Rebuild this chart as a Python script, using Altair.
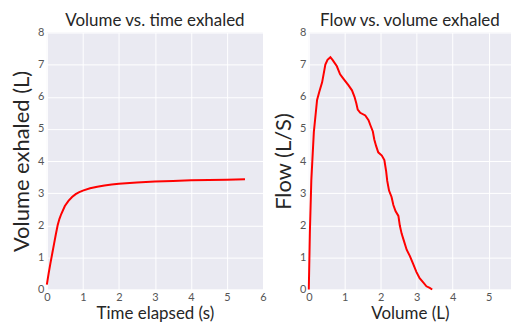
import altair as alt
import pandas as pd

# Left panel: volume vs time
time_s = [0, 0.05, 0.1, 0.15, 0.2, 0.25, 0.3, 0.35, 0.4, 0.5, 0.6, 0.7, 0.8, 0.9,
          1.0, 1.2, 1.4, 1.6, 1.8, 2.0, 2.5, 3.0, 3.5, 4.0, 4.5, 5.0, 5.5]
volume_l = [0.15, 0.5, 0.82, 1.12, 1.42, 1.72, 2.0, 2.2, 2.35, 2.6, 2.76, 2.88, 2.97, 3.03,
            3.08, 3.15, 3.2, 3.24, 3.27, 3.29, 3.33, 3.36, 3.38, 3.40, 3.41, 3.42, 3.43]

# Right panel: flow vs volume
fv_volume = [0, 0.03, 0.07, 0.14, 0.23, 0.29, 0.37, 0.46, 0.52, 0.6, 0.66, 0.78, 0.87, 0.97,
             1.1, 1.2, 1.27, 1.32, 1.36, 1.43, 1.57, 1.66, 1.72, 1.78, 1.82, 1.87, 1.93,
             2.03, 2.1, 2.15, 2.18, 2.23, 2.3, 2.35, 2.41, 2.49, 2.53, 2.58, 2.65, 2.72,
             2.81, 2.9, 2.99, 3.08, 3.18, 3.27, 3.36, 3.43]
fv_flow = [0, 1.8, 3.4, 4.9, 5.9, 6.15, 6.45, 7.0, 7.15, 7.23, 7.15, 6.95, 6.7, 6.55,
           6.36, 6.2, 6.0, 5.8, 5.6, 5.5, 5.42, 5.27, 5.09, 4.92, 4.67, 4.47, 4.27,
           4.17, 4.03, 3.68, 3.38, 3.08, 2.88, 2.63, 2.44, 2.29, 1.99, 1.74, 1.49, 1.24,
           1.04, 0.8, 0.55, 0.35, 0.22, 0.1, 0.05, 0.0]

tick_vals = [0, 1, 2, 3, 4, 5, 6, 7, 8]

df1 = pd.DataFrame({"t": time_s, "v": volume_l, "i": range(len(time_s))})
df2 = pd.DataFrame({"v": fv_volume, "f": fv_flow, "i": range(len(fv_volume))})

FONT = "Lato"

x_axis_style = dict(titleFontSize=17, titlePadding=3, labelPadding=2)

left = alt.Chart(df1, title=alt.Title("Volume vs. time exhaled")).mark_line(
    color="red", strokeWidth=2
).encode(
    x=alt.X("t:Q", title="Time elapsed (s)",
            scale=alt.Scale(domain=[0, 6], nice=False),
            axis=alt.Axis(values=[0, 1, 2, 3, 4, 5, 6], **x_axis_style)),
    y=alt.Y("v:Q", title="Volume exhaled (L)",
            scale=alt.Scale(domain=[0, 8], nice=False),
            axis=alt.Axis(values=tick_vals)),
    order="i:Q",
).properties(width=217, height=258)

right = alt.Chart(df2, title=alt.Title("Flow vs. volume exhaled")).mark_line(
    color="red", strokeWidth=2
).encode(
    x=alt.X("v:Q", title="Volume (L)",
            scale=alt.Scale(domain=[0, 5.62], nice=False),
            axis=alt.Axis(values=[0, 1, 2, 3, 4, 5], **x_axis_style)),
    y=alt.Y("f:Q", title="Flow (L/S)",
            scale=alt.Scale(domain=[0, 8], nice=False),
            axis=alt.Axis(values=tick_vals)),
    order="i:Q",
).properties(width=203, height=258)

chart = alt.hconcat(left, right, spacing=5).properties(
    padding={"left": 2, "top": 3, "right": 0, "bottom": 0}
).configure_view(
    stroke=None, fill="#EAEAF2"
).configure_axis(
    domain=False, ticks=False, grid=True, gridColor="white", gridWidth=1,
    labelColor="#555555", labelFont=FONT, labelFontSize=11, labelPadding=3,
    labelFlush=False,
    titleFont=FONT, titleFontSize=22, titleFontWeight="normal", titleColor="#262626",
    titlePadding=4,
).configure_title(
    font=FONT, fontSize=17, fontWeight="normal", color="#262626", offset=-3
)

chart.save("out.html", embed_options={"renderer": "svg", "actions": False})
